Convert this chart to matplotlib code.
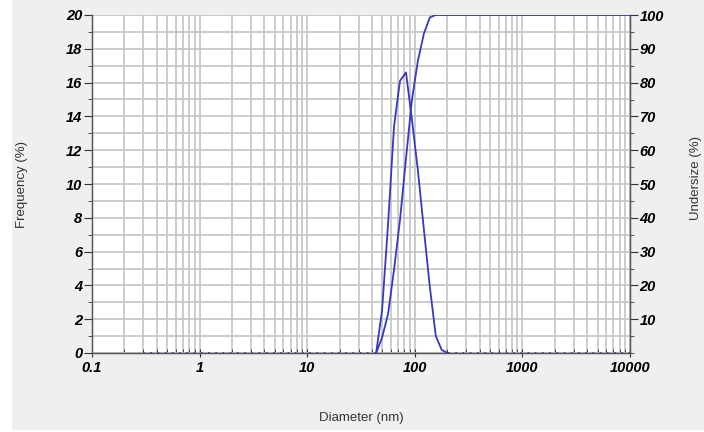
import matplotlib
matplotlib.use('Agg')
import matplotlib.pyplot as plt
import matplotlib.ticker as mticker
from matplotlib.patches import Rectangle
import numpy as np

# particle size bins (nm)
diameter = [43.7, 49.6, 56.4, 64.1, 72.8, 82.8, 94.1, 106.9, 121.5, 138.0, 156.8, 178.0, 202.0]
frequency = [0.0, 2.5, 7.6, 13.4, 16.1, 16.6, 13.8, 10.8, 7.3, 3.9, 1.0, 0.18, 0.0]
undersize = [0.0, 4.5, 11.5, 24.6, 39.3, 57.5, 75.0, 86.5, 94.5, 99.3, 100.0, 100.0, 100.0]
undersize_tail = [202.0, 10000.0]  # flat at 100 to the end
zero_lo = [0.3, 43.7]
zero_hi = [202.0, 10000.0]

x_ticks = [0.1, 1, 10, 100, 1000, 10000]
x_labels = ['0.1', '1', '10', '100', '1000', '10000']

blue = '#3838c0'
grid_col = '#c4c4c4'
tick_font = dict(family='Liberation Sans', weight='bold', style='italic', size=10.5)
label_font = dict(family='Liberation Sans', size=9.5, color='#333333')

fig = plt.figure(figsize=(7.04, 4.32), dpi=100)
fig.patch.set_facecolor('white')
fig.patches.append(Rectangle((12/704, 2/432), 1, 1, transform=fig.transFigure,
                             facecolor='#efefef', edgecolor='none', zorder=-10))

ax = fig.add_axes([92/704, 1 - 353/432, (630 - 92)/704, (353 - 15)/432])
ax.set_facecolor('white')
ax.set_xscale('log')
ax.set_xlim(0.1, 10000)
ax.set_ylim(0, 20)

# grid on every minor step
ax.set_xticks(x_ticks)
ax.set_xticklabels(x_labels, fontdict=tick_font)
ax.xaxis.set_minor_locator(mticker.LogLocator(base=10, subs=np.arange(2, 10), numticks=20))
ax.xaxis.set_minor_formatter(mticker.NullFormatter())
ax.set_yticks(np.arange(0, 21, 2))
ax.set_yticklabels([str(v) for v in range(0, 21, 2)], fontdict=tick_font)
ax.yaxis.set_minor_locator(mticker.MultipleLocator(1))
ax.grid(True, which='both', color=grid_col, lw=1.2, zorder=0)
ax.set_axisbelow(True)

ax.tick_params(axis='x', which='major', direction='inout', length=6, pad=3, color='#333333')
ax.tick_params(axis='x', which='minor', direction='in', length=3, color='#333333')
ax.tick_params(axis='y', which='major', direction='out', length=6, pad=1, color='#333333')
ax.tick_params(axis='y', which='minor', direction='out', length=3, color='#333333')

ax.spines['top'].set_visible(False)
for s in ['left', 'right', 'bottom']:
    ax.spines[s].set_color('#555555')
    ax.spines[s].set_linewidth(1.0)

# frequency (left axis)
ax.plot(diameter, frequency, color=blue, lw=1.3, zorder=3)
ax.plot(zero_lo, [0, 0], color=blue, lw=1.3, ls=(0, (1, 3)), zorder=3)
ax.plot(zero_hi, [0, 0], color=blue, lw=1.3, ls=(0, (1, 3)), zorder=3)

# undersize (right axis)
ax2 = ax.twinx()
ax2.set_ylim(0, 100)
ax2.plot(diameter, undersize, color=blue, lw=1.3, zorder=3)
ax2.plot(undersize_tail, [100, 100], color=blue, lw=1.3, zorder=3)
ax2.set_yticks(np.arange(10, 101, 10))
ax2.set_yticklabels([str(v) for v in range(10, 101, 10)], fontdict=tick_font)
ax2.yaxis.set_minor_locator(mticker.MultipleLocator(5))
ax2.tick_params(axis='y', which='major', direction='out', length=6, pad=1, color='#333333')
ax2.tick_params(axis='y', which='minor', direction='out', length=3, color='#333333')
ax2.spines['top'].set_visible(False)
for s in ['left', 'right', 'bottom']:
    ax2.spines[s].set_color('#555555')

fig.text(22/704, 1 - 184/432, 'Frequency (%)', rotation=90, ha='center', va='center', **label_font)
fig.text(696/704, 1 - 178/432, 'Undersize (%)', rotation=90, ha='center', va='center', **label_font)
fig.text(361/704, 1 - 418/432, 'Diameter (nm)', ha='center', va='center', **label_font)

fig.savefig('out.png', dpi=100)
